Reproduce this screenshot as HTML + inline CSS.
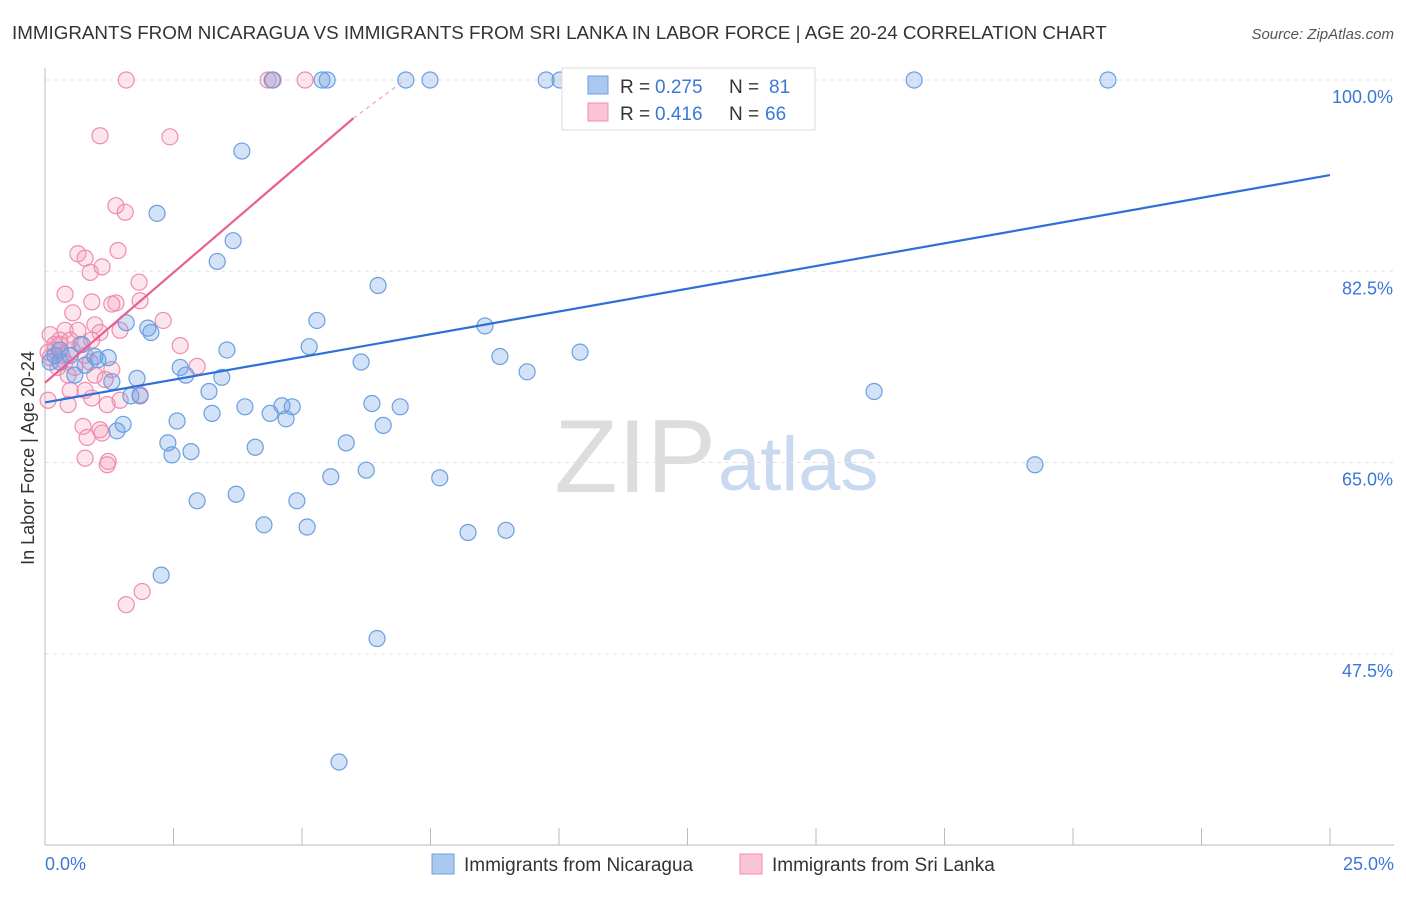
<!DOCTYPE html>
<html><head><meta charset="utf-8"><style>
body{margin:0;background:#fff;font-family:"Liberation Sans",sans-serif;}
svg text{font-family:"Liberation Sans",sans-serif;}
</style></head><body>
<svg width="1406" height="892" id="chart">
<text x="12" y="39" font-size="18.8" fill="#333">IMMIGRANTS FROM NICARAGUA VS IMMIGRANTS FROM SRI LANKA IN LABOR FORCE | AGE 20-24 CORRELATION CHART</text>
<text x="1394" y="39" font-size="15" fill="#555" font-style="italic" text-anchor="end">Source: ZipAtlas.com</text>
<text x="716" y="492" font-size="104" fill="#ddd" text-anchor="end" font-family="Liberation Serif">ZIP</text>
<text x="718" y="490" font-size="76" fill="#c9d9ef">atlas</text>
<text x="34" y="458" font-size="18" fill="#333" text-anchor="middle" transform="rotate(-90 34 458)">In Labor Force | Age 20-24</text>
<g id="grid"></g><g id="axes"></g><g id="marks"></g>
<g>
<rect x="562" y="68" width="253" height="62" fill="#fff" stroke="#ddd"/>
<rect x="588" y="76" width="20" height="18" fill="#aac8f0" stroke="#6a9fe0"/>
<text x="620" y="93" font-size="19" fill="#333">R =</text>
<text x="655" y="93" font-size="19" fill="#3a78d8">0.275</text>
<text x="729" y="93" font-size="19" fill="#333">N =</text>
<text x="769" y="93" font-size="19" fill="#3a78d8">81</text>
<rect x="588" y="103" width="20" height="18" fill="#f9c4d6" stroke="#f08cb0"/>
<text x="620" y="120" font-size="19" fill="#333">R =</text>
<text x="655" y="120" font-size="19" fill="#3a78d8">0.416</text>
<text x="729" y="120" font-size="19" fill="#333">N =</text>
<text x="765" y="120" font-size="19" fill="#3a78d8">66</text>
</g>
<g>
<rect x="432" y="854" width="22" height="20" fill="#aac8f0" stroke="#6a9fe0"/>
<text x="464" y="871" font-size="19" fill="#333">Immigrants from Nicaragua</text>
<rect x="740" y="854" width="22" height="20" fill="#f9c4d6" stroke="#f08cb0"/>
<text x="772" y="871" font-size="19" fill="#333">Immigrants from Sri Lanka</text>
</g>
</svg>
<script>
const yTicks=[100,82.5,65,47.5];
const yTickLabels=["100.0%","82.5%","65.0%","47.5%"];
const xTickCount=10;
const blueX=[4.42,5.39,5.49,7.02,7.49,9.75,10.02,16.91,20.68,3.83,2.18,3.66,3.35,6.48,1.58,2.00,2.06,5.29,8.56,3.54,5.14,8.85,10.41,6.15,9.38,16.13,0.72,0.29,0.49,0.97,1.23,1.03,0.29,1.30,1.79,2.63,2.74,3.44,3.19,1.67,1.85,3.89,3.25,4.38,4.61,4.81,4.69,2.57,6.36,6.91,6.58,1.52,1.40,2.39,2.47,2.84,4.09,5.86,19.26,6.25,5.56,7.68,3.72,2.96,4.90,4.26,5.10,8.23,8.97,2.26,6.46,5.72,0.10,0.19,0.58,0.78];
const blueY=[100,100,100,100,100,100,100,100,100,93.5,87.8,85.3,83.4,81.2,77.8,77.3,76.9,78.0,77.5,75.3,75.6,74.7,75.1,74.2,73.3,71.5,75.8,75.3,74.8,74.7,74.6,74.4,74.2,72.4,72.7,73.7,73.0,72.8,71.5,71.1,71.1,70.1,69.5,69.5,70.2,70.1,69.0,68.8,70.4,70.1,68.4,68.5,67.9,66.8,65.7,66.0,66.4,66.8,64.8,64.3,63.7,63.6,62.1,61.5,61.5,59.3,59.1,58.6,58.8,54.7,48.9,37.6,74.2,74.8,73.0,73.9];
const pinkX=[1.58,4.34,4.44,5.06,1.07,2.43,1.38,1.56,1.42,0.64,0.78,1.11,0.88,1.83,0.39,0.91,1.38,1.30,1.85,0.54,2.30,0.97,0.10,0.39,0.64,1.07,1.46,0.91,2.63,0.29,0.19,0.53,0.78,0.39,0.10,0.25,0.58,2.96,1.30,1.17,0.49,0.78,0.91,1.46,0.06,0.45,1.21,0.74,1.07,0.82,1.11,0.78,1.23,1.21,1.58,1.89,0.29,0.49,0.19,0.68,0.33,0.06,0.88,0.45,0.97,1.85];
const pinkY=[100,100,100,100,94.9,94.8,88.5,87.9,84.4,84.1,83.7,82.9,82.4,81.5,80.4,79.7,79.6,79.5,79.8,78.7,78.0,77.6,76.7,77.1,77.1,76.9,77.1,76.2,75.7,75.8,75.3,75.3,74.8,74.2,74.6,73.7,73.7,73.8,73.5,72.6,71.6,71.6,70.9,70.7,70.7,70.3,70.3,68.3,68.0,67.3,67.7,65.4,65.1,64.8,52.0,53.2,76.2,76.2,75.8,75.8,74.8,75.1,74.2,73.0,73.0,71.2];
const blueTrend=[70.5,91.3];
const pinkTrend=[72.3,96.5,100];
const pinkTrendX=[0,6.0,7.0];
const NS="http://www.w3.org/2000/svg";
const X=v=>45+v/25*1285;
const Y=v=>80+(100-v)*10.93;
function mk(tag,attrs,parent){const e=document.createElementNS(NS,tag);for(const k in attrs)e.setAttribute(k,attrs[k]);document.getElementById(parent).appendChild(e);return e;}
yTicks.forEach((t,i)=>{
 const l=mk('line',{x1:45,x2:1394,y1:Y(t),y2:Y(t),stroke:'#e3e3e3','stroke-dasharray':'4,4'},'grid');
 
 
 const tx=mk('text',{x:1393,y:Y(t)+23,'font-size':18,fill:'#3a78d8','text-anchor':'end'},'axes');
 tx.textContent=yTickLabels[i];
 
 
});
const ax=mk('line',{x1:45,x2:1394,y1:845,y2:845,stroke:'#bbb'},'axes');


const ay=mk('line',{x1:45,x2:45,y1:68,y2:845,stroke:'#bbb'},'axes');


for(let i=0;i<=xTickCount;i++){
 const t=mk('line',{x1:X(i*2.5),x2:X(i*2.5),y1:828,y2:845,stroke:'#bbb'},'axes');
 
 
}
const xl0=mk('text',{x:45,y:870,'font-size':18,fill:'#3a78d8'},'axes');xl0.textContent='0.0%';


const xl1=mk('text',{x:1394,y:870,'font-size':18,fill:'#3a78d8','text-anchor':'end'},'axes');xl1.textContent='25.0%';


pinkX.forEach((v,i)=>{
 const c=mk('circle',{cx:X(v),cy:Y(pinkY[i]),r:8,fill:'rgba(245,150,185,0.25)',stroke:'#f08cb0','stroke-width':1.2},'marks');
 
 
});
blueX.forEach((v,i)=>{
 const c=mk('circle',{cx:X(v),cy:Y(blueY[i]),r:8,fill:'rgba(110,160,230,0.3)',stroke:'#6a9fe0','stroke-width':1.2},'marks');
 
 
});
const bt=mk('line',{x1:X(0),y1:Y(blueTrend[0]),x2:X(25),y2:Y(blueTrend[1]),stroke:'#2f6fd6','stroke-width':2.2},'marks');


const pt=mk('line',{x1:X(pinkTrendX[0]),y1:Y(pinkTrend[0]),x2:X(pinkTrendX[1]),y2:Y(pinkTrend[1]),stroke:'#e8608f','stroke-width':2.2},'marks');


const pd=mk('line',{x1:X(pinkTrendX[1]),y1:Y(pinkTrend[1]),x2:X(pinkTrendX[2]),y2:Y(pinkTrend[2]),stroke:'#f0a0bc','stroke-width':1.2,'stroke-dasharray':'4,4'},'marks');


</script>
</body></html>
